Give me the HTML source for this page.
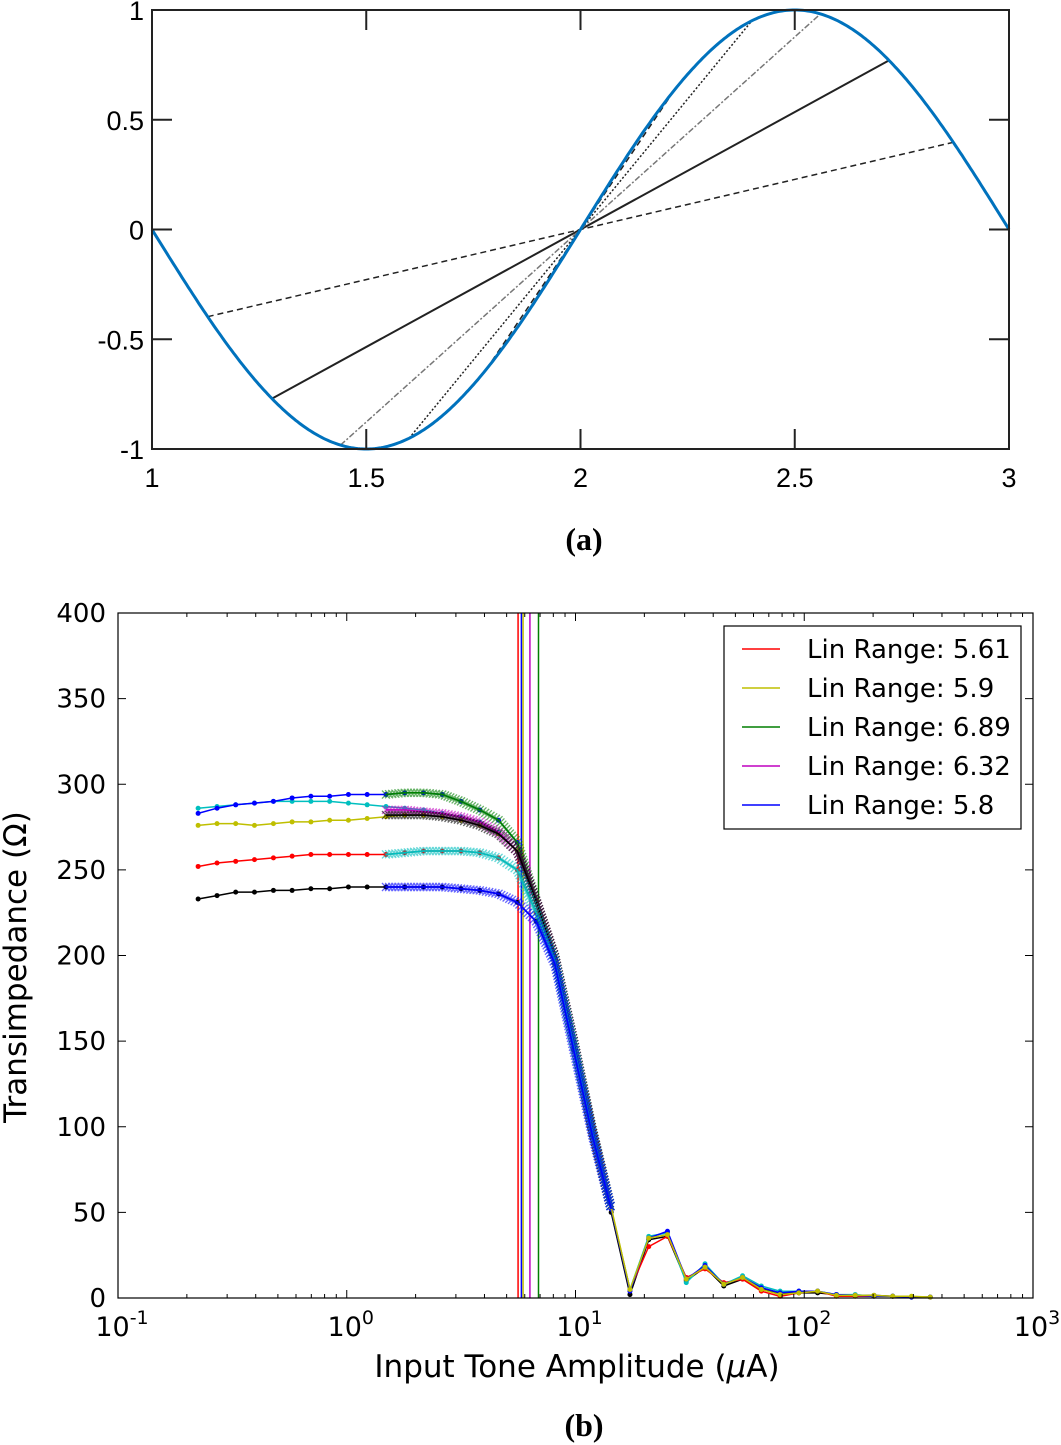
<!DOCTYPE html>
<html><head><meta charset="utf-8"><style>
body{margin:0;background:#fff;width:1061px;height:1445px;overflow:hidden}
svg{display:block}
</style></head><body>
<svg id="fig" width="1061" height="1445" xmlns="http://www.w3.org/2000/svg">
<g id="top"></g>
<text x="584" y="550" text-anchor="middle" font-family="Liberation Serif, serif" font-weight="bold" font-size="32">(a)</text>
<g id="bot"></g>
<text x="584" y="1436" text-anchor="middle" font-family="Liberation Serif, serif" font-weight="bold" font-size="32">(b)</text>
</svg>
<script>
// ---- top chart data ----
const topXTicks=[1,1.5,2,2.5,3];
const topYTicks=[-1,-0.5,0,0.5,1];
const topYTickLabels=["-1","-0.5","0","0.5","1"];
const chordHalfWidths=[0.87,0.72,0.56,0.4,0.22];
const chordStyles=["dashed","solid","dashdot","dotted","dashed"];
// ---- bottom chart data ----
const gridX=[0.224,0.271,0.327,0.395,0.478,0.577,0.697,0.842,1.017,1.228,1.484,1.792,2.165,2.615,3.159,3.816,4.609,5.568,6.726,8.124,9.814,11.85,14.32,17.30,20.90,25.24,30.49,36.83,44.49,53.74,64.92,78.42,94.73,114.4,138.2,167.0,201.7,243.6,294.3,355.5];
const dotBlue=[283,286,288,289,290,292,293,293,294,294,294,295,295,294,290,285,279,266,232,199,150,98,52,4,35,39,11,19,8,12,6,3,4,4,2,1.5,1,1,0.5,0.5];
const dotCyan=[286,287,288,289,290,290,290,290,289,288,287,286,285,283,281,278,272,261,232,199,150,98,52,5,36,38,9,20,8,13,7,4,4,4,2,2,1,1,0.5,0.5];
const dotYellow=[276,277,277,276,277,278,278,279,279,280,281,282,282,281,279,276,271,261,232,199,150,98,53,5,35,37,11,18,8,12,5,2,3,4,1.5,1.5,1.5,1,1,0.5];
const dotRed=[252,254,255,256,257,258,259,259,259,259,259,260,261,261,261,260,257,250,225,197,148,97,52,5,30,36,12,17,9,11,4,1,3,4,1,1,1,1,0.5,0.5];
const dotBlack=[233,235,237,237,238,238,239,239,240,240,240,240,240,240,239,238,236,231,220,195,145,95,50,2,34,36,10,18,7,11,5,3,3,3,2,1.5,1.5,1,0.5,0.5];
const crossStart=10;
const crossGreen=[294,295,295,294,290,285,279,266,232,199,150,98,52];
const crossMagenta=[285,285,284,283,281,278,272,261,232,199,150,98,52];
const crossBlack=[282,282,282,281,279,276,271,261,232,199,150,98,52];
const crossCyan=[259,260,261,261,261,260,257,250,225,197,148,97,52];
const crossBlue=[240,240,240,240,239,238,236,231,220,195,145,95,52];
const linRanges=[5.61,5.9,6.89,6.32,5.8];
const linColors=["#ff0000","#bfbf00","#007f00","#bf00bf","#0000ff"];
const yTicks=[0,50,100,150,200,250,300,350,400];
const xDecades=[-1,0,1,2,3];

const NS="http://www.w3.org/2000/svg";
function mk(tag,attrs,parent){const e=document.createElementNS(NS,tag);for(const k in attrs)e.setAttribute(k,attrs[k]);parent.appendChild(e);return e;}

// ===== TOP =====
const T=document.getElementById('top');
const tL=152,tR=1009,tT=10,tB=449;
const tx=v=>tL+(v-1)/2*(tR-tL);
const ty=v=>tT+(1-v)/2*(tB-tT);
chordHalfWidths.forEach((d,i)=>{
  const y1=-Math.sin(Math.PI*(1-d)),y2=-Math.sin(Math.PI*(1+d));
  const st=chordStyles[i];
  const a={x1:tx(2-d),y1:ty(y1),x2:tx(2+d),y2:ty(y2),stroke:st==="dashdot"?"#777":"#222","stroke-width":st==="solid"?2:1.5};
  if(st==="dashed")a["stroke-dasharray"]="6,4";
  if(st==="dotted")a["stroke-dasharray"]="2,2";
  if(st==="dashdot")a["stroke-dasharray"]="6,2,2,2";
  const l=mk('line',a,T);
  
  
});
let p="";for(let k=0;k<=400;k++){const x=1+2*k/400;p+=(k?"L":"M")+tx(x).toFixed(1)+","+ty(-Math.sin(Math.PI*(x-1))).toFixed(1);}
const sp=mk('path',{d:p,fill:"none",stroke:"#0072BD","stroke-width":3},T);


const tbox=mk('rect',{x:tL,y:tT,width:tR-tL,height:tB-tT,fill:"none",stroke:"#222","stroke-width":2},T);


topXTicks.forEach(v=>{
  mk('line',{x1:tx(v),x2:tx(v),y1:tB,y2:tB-20,stroke:"#222","stroke-width":2},T);
  mk('line',{x1:tx(v),x2:tx(v),y1:tT,y2:tT+20,stroke:"#222","stroke-width":2},T);
  const t=mk('text',{x:tx(v),y:487,"text-anchor":"middle","font-family":"Liberation Sans, sans-serif","font-size":27},T);
  t.textContent=String(v);
  
  
});
topYTicks.forEach((v,i)=>{
  mk('line',{x1:tL,x2:tL+20,y1:ty(v),y2:ty(v),stroke:"#222","stroke-width":2},T);
  mk('line',{x1:tR,x2:tR-20,y1:ty(v),y2:ty(v),stroke:"#222","stroke-width":2},T);
  const t=mk('text',{x:144,y:ty(v)+10,"text-anchor":"end","font-family":"Liberation Sans, sans-serif","font-size":27},T);
  t.textContent=topYTickLabels[i];
  
  
});

// ===== BOTTOM =====
const B=document.getElementById('bot');
const bL=118,bR=1033,bT=613,bB=1298;
const bx=v=>bL+(Math.log10(v)+1)/4*(bR-bL);
const by=v=>bB-v/400*(bB-bT);
const F="DejaVu Sans, Liberation Sans, sans-serif";
linRanges.forEach((v,i)=>{
  const l=mk('line',{x1:bx(v),x2:bx(v),y1:bT,y2:bB,stroke:linColors[i],"stroke-width":1.5},B);
  
  
});
function poly(xs,ys,color,name){
  const pts=xs.map((x,i)=>bx(x).toFixed(1)+","+by(ys[i]).toFixed(1)).join(" ");
  const l=mk('polyline',{points:pts,fill:"none",stroke:color,"stroke-width":1.5},B);
  
  
}
function crosses(vals,color,name){
  const xs=gridX.slice(crossStart,crossStart+vals.length);
  const g=mk('g',{stroke:color,"stroke-width":1.3,opacity:0.6},B);
  
  
  for(let i=0;i<vals.length-1;i++){
    const x0=bx(xs[i]),y0=by(vals[i]),x1=bx(xs[i+1]),y1=by(vals[i+1]);
    const n=Math.max(5,Math.round(Math.hypot(x1-x0,y1-y0)/3));
    for(let k=0;k<n;k++){const f=k/n,x=x0+(x1-x0)*f,y=y0+(y1-y0)*f;
      mk('path',{d:`M${x-4},${y-4}L${x+4},${y+4}M${x-4},${y+4}L${x+4},${y-4}`},g);}
  }
  poly(xs,vals,color,name+'-line');
}
function dots(vals,color,name){
  poly(gridX,vals,color,name+'-line');
  const g=mk('g',{fill:color},B);
  
  
  vals.forEach((v,i)=>mk('circle',{cx:bx(gridX[i]),cy:by(v),r:2.5},g));
}
dots(dotBlack,"#000000","dot-series-black");
dots(dotRed,"#ff0000","dot-series-red");
dots(dotCyan,"#00bfbf","dot-series-cyan");
dots(dotBlue,"#0000ff","dot-series-blue");
dots(dotYellow,"#bfbf00","dot-series-yellow");
crosses(crossGreen,"#008000","cross-series-green");
crosses(crossMagenta,"#c000c0","cross-series-magenta");
crosses(crossBlack,"#000000","cross-series-black");
crosses(crossCyan,"#00bfbf","cross-series-cyan");
crosses(crossBlue,"#0000ff","cross-series-blue");
const bbox=mk('rect',{x:bL,y:bT,width:bR-bL,height:bB-bT,fill:"none",stroke:"#000","stroke-width":1.2},B);


yTicks.forEach(v=>{
  mk('line',{x1:bL,x2:bL+8,y1:by(v),y2:by(v),stroke:"#000"},B);
  mk('line',{x1:bR,x2:bR-8,y1:by(v),y2:by(v),stroke:"#000"},B);
  const t=mk('text',{x:106,y:by(v)+9,"text-anchor":"end","font-family":F,"font-size":26},B);
  t.textContent=String(v);
  
  
});
xDecades.forEach((d,i)=>{
  const X=bx(Math.pow(10,d));
  mk('line',{x1:X,x2:X,y1:bB,y2:bB-8,stroke:"#000"},B);
  mk('line',{x1:X,x2:X,y1:bT,y2:bT+8,stroke:"#000"},B);
  if(i<xDecades.length-1)for(let m=2;m<10;m++){const xm=bx(m*Math.pow(10,d));
    mk('line',{x1:xm,x2:xm,y1:bB,y2:bB-4,stroke:"#000"},B);
    mk('line',{x1:xm,x2:xm,y1:bT,y2:bT+4,stroke:"#000"},B);}
  const t=mk('text',{x:X+4,y:1336,"text-anchor":"middle","font-family":F,"font-size":27},B);
  t.innerHTML='10<tspan dy="-12" font-size="19">'+d+'</tspan>';
  
  
});
const xl=mk('text',{x:577,y:1377,"text-anchor":"middle","font-family":F,"font-size":31},B);
xl.innerHTML='Input Tone Amplitude (<tspan font-style="italic">μ</tspan>A)';


const yl=mk('text',{x:0,y:0,"text-anchor":"middle","font-family":F,"font-size":31,transform:"translate(26,967) rotate(-90)"},B);
yl.textContent='Transimpedance (Ω)';


const lg=mk('g',{},B);


mk('rect',{x:724,y:626,width:297,height:203,fill:"#fff",stroke:"#000","stroke-width":1.2},lg);
const legColors=["#ff0000","#bfbf00","#007f00","#bf00bf","#0000ff"];
const legOrder=[5.61,5.9,6.89,6.32,5.8];
legOrder.forEach((v,i)=>{
  const y=649+i*39;
  mk('line',{x1:742,x2:780,y1:y,y2:y,stroke:legColors[i],"stroke-width":1.5},lg);
  const t=mk('text',{x:807,y:y+9,"font-family":F,"font-size":26},lg);
  t.textContent='Lin Range: '+v;
  
  
});
</script>
</body></html>
